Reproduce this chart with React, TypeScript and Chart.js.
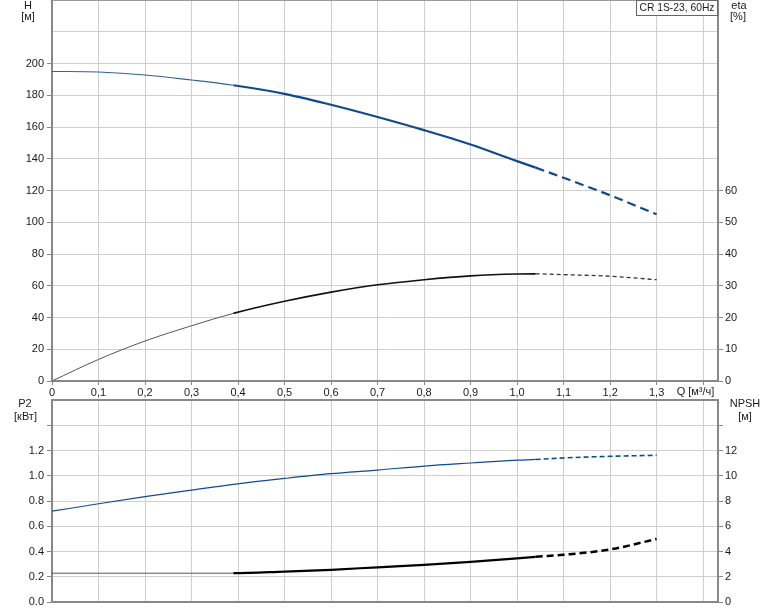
import React, { useEffect, useRef } from 'react';
import { Chart, registerables } from 'chart.js';

Chart.register(...registerables);

// ---- data ----
const qFlow = [0, 0.1, 0.2, 0.3, 0.39, 0.5, 0.6, 0.7, 0.8, 0.9, 1.0, 1.04, 1.1, 1.2, 1.3];
const headH = [195, 194.6, 192.8, 189.6, 186.3, 180.9, 174.0, 166.3, 158.0, 149.0, 138.5, 134.4, 128.0, 117.0, 105.0];
const effEta = [0, 6.8, 12.6, 17.4, 21.3, 25.1, 28.0, 30.3, 31.9, 33.1, 33.7, 33.75, 33.5, 33.0, 31.9];
const powerP2 = [0.719, 0.778, 0.834, 0.886, 0.932, 0.979, 1.017, 1.045, 1.077, 1.101, 1.123, 1.129, 1.141, 1.154, 1.162];
const npshR = [2.28, 2.28, 2.28, 2.28, 2.28, 2.41, 2.55, 2.75, 2.94, 3.18, 3.45, 3.58, 3.74, 4.16, 4.99];

const thickStartQ = 0.39;
const dashStartQ = 1.04;

const qTicks = [0, 0.1, 0.2, 0.3, 0.4, 0.5, 0.6, 0.7, 0.8, 0.9, 1.0, 1.1, 1.2, 1.3, 1.4];
const qTickLabels = ['0', '0,1', '0,2', '0,3', '0,4', '0,5', '0,6', '0,7', '0,8', '0,9', '1,0', '1,1', '1,2', '1,3', ''];
const qMax = 1.432;

const hTicks = [0, 20, 40, 60, 80, 100, 120, 140, 160, 180, 200, 220, 240];
const hTickLabels = ['0', '20', '40', '60', '80', '100', '120', '140', '160', '180', '200', '', ''];
const etaTicks = [0, 10, 20, 30, 40, 50, 60, 70, 80, 90, 100, 110, 120];
const etaTickLabels = ['0', '10', '20', '30', '40', '50', '60', '', '', '', '', '', ''];

const p2Ticks = [0, 0.2, 0.4, 0.6, 0.8, 1.0, 1.2, 1.4, 1.6];
const p2TickLabels = ['0.0', '0.2', '0.4', '0.6', '0.8', '1.0', '1.2', '', ''];
const npshTicks = [0, 2, 4, 6, 8, 10, 12, 14, 16];
const npshTickLabels = ['0', '2', '4', '6', '8', '10', '12', '', ''];

const titleText = 'CR 1S-23, 60Hz';

// ---- styles ----
const FONT = '"Liberation Sans", Arial, sans-serif';
const TXT = '#1a1a1a';
const GRID = '#cfcfcf';
const AXIS = '#888888';
const BLUE = '#0f4b8c';

const W = 774;
const TOP_H = 398;
const BOT_H = 213;

function pts(ys: number[]) {
  return qFlow.map((q, i) => ({ x: q, y: ys[i] }));
}

function labelFrom(ticks: number[], labels: string[]) {
  return (v: any) => {
    const i = ticks.findIndex((t) => Math.abs(t - Number(v)) < 1e-6);
    return i >= 0 ? labels[i] : '';
  };
}

function setTicks(ticks: number[]) {
  return (scale: any) => {
    scale.ticks = ticks.map((v) => ({ value: v }));
  };
}

function fitW(w: number) {
  return (s: any) => {
    s.width = w;
    s.paddingTop = 0;
    s.paddingBottom = 0;
  };
}

function fitH(h: number) {
  return (s: any) => {
    s.height = h;
    s.paddingLeft = 0;
    s.paddingRight = 0;
  };
}

function segStyle(thin: number, thick: number, dashW: number, dash: number[]) {
  return {
    borderWidth: (ctx: any) => {
      const x = ctx.p0.parsed.x;
      if (x < thickStartQ - 1e-6) return thin;
      if (x >= dashStartQ - 1e-6) return dashW;
      return thick;
    },
    borderDash: (ctx: any) => (ctx.p0.parsed.x >= dashStartQ - 1e-6 ? dash : []),
  };
}

function drawText(ctx: CanvasRenderingContext2D, s: string, x: number, y: number, align: CanvasTextAlign = 'center', maxW?: number) {
  ctx.textAlign = align;
  ctx.textBaseline = 'middle';
  if (maxW) ctx.fillText(s, x, y, maxW);
  else ctx.fillText(s, x, y);
}

export default function App() {
  const topRef = useRef<HTMLCanvasElement>(null);
  const botRef = useRef<HTMLCanvasElement>(null);

  useEffect(() => {
    const tickFont = { family: FONT, size: 11 };

    const topLabels = {
      id: 'topLabels',
      afterDraw(chart: any) {
        const ctx = chart.ctx as CanvasRenderingContext2D;
        ctx.save();
        ctx.font = `11px ${FONT}`;
        ctx.fillStyle = TXT;
        drawText(ctx, 'H', 28, 6);
        drawText(ctx, '[м]', 28, 17);
        drawText(ctx, 'eta', 739, 6);
        drawText(ctx, '[%]', 738, 17);
        drawText(ctx, 'Q [м³/ч]', 695.5, 391.5);
        // title box
        ctx.fillStyle = '#ffffff';
        ctx.fillRect(636, 0, 82, 16);
        ctx.strokeStyle = '#666666';
        ctx.lineWidth = 1;
        ctx.strokeRect(636.5, 0.5, 81, 15);
        ctx.fillStyle = TXT;
        drawText(ctx, titleText, 639.5, 8, 'left', 75);
        ctx.restore();
      },
    };

    const botLabels = {
      id: 'botLabels',
      afterDraw(chart: any) {
        const ctx = chart.ctx as CanvasRenderingContext2D;
        ctx.save();
        ctx.font = `11px ${FONT}`;
        ctx.fillStyle = TXT;
        const off = TOP_H;
        drawText(ctx, 'P2', 25, 404 - off);
        drawText(ctx, '[кВт]', 25.5, 417 - off);
        drawText(ctx, 'NPSH', 745, 404 - off);
        drawText(ctx, '[м]', 745, 417 - off);
        ctx.restore();
      },
    };

    const top = new Chart(topRef.current!, {
      type: 'line',
      data: {
        datasets: [
          {
            data: pts(effEta),
            yAxisID: 'yEta',
            borderColor: '#111111',
            pointRadius: 0,
            cubicInterpolationMode: 'monotone',
            segment: {
              ...segStyle(1, 1.6, 1.3, [4, 3]),
              borderColor: (ctx: any) => (ctx.p0.parsed.x < thickStartQ - 1e-6 ? '#555555' : ctx.p0.parsed.x >= dashStartQ - 1e-6 ? '#333333' : '#111111'),
            },
          } as any,
          {
            data: pts(headH),
            yAxisID: 'yH',
            borderColor: BLUE,
            pointRadius: 0,
            cubicInterpolationMode: 'monotone',
            segment: {
              ...segStyle(1.1, 2.2, 2.2, [9, 5]),
              borderColor: (ctx: any) => (ctx.p0.parsed.x < thickStartQ - 1e-6 ? '#33619a' : BLUE),
            },
          } as any,
        ],
      },
      options: {
        animation: false,
        responsive: false,
        maintainAspectRatio: false,
        layout: { padding: 0 },
        plugins: { legend: { display: false }, tooltip: { enabled: false } },
        scales: {
          x: {
            type: 'linear',
            min: 0,
            max: qMax,
            afterBuildTicks: setTicks(qTicks),
            afterFit: fitH(TOP_H - 381),
            ticks: {
              autoSkip: false,
              maxRotation: 0,
              padding: 1,
              font: tickFont,
              color: TXT,
              callback: labelFrom(qTicks, qTickLabels),
            },
            grid: { color: GRID, lineWidth: 1, tickLength: 4, tickColor: AXIS },
            border: { color: AXIS, width: 2 },
          },
          yH: {
            type: 'linear',
            position: 'left',
            min: 0,
            max: 240,
            afterBuildTicks: setTicks(hTicks),
            afterFit: fitW(52),
            ticks: {
              padding: 3,
              font: tickFont,
              color: TXT,
              callback: labelFrom(hTicks, hTickLabels),
            },
            grid: {
              color: (c: any) => (c.tick && c.tick.value >= 240 ? '#9a9a9a' : GRID),
              lineWidth: (c: any) => (c.tick && c.tick.value >= 240 ? 2 : 1),
              tickLength: 5,
              tickColor: (c: any) => (c.tick && c.tick.value > 200 ? 'rgba(0,0,0,0)' : AXIS),
            },
            border: { color: AXIS, width: 2 },
          },
          yEta: {
            type: 'linear',
            position: 'right',
            min: 0,
            max: 120,
            afterBuildTicks: setTicks(etaTicks),
            afterFit: fitW(W - 718),
            ticks: {
              padding: 2,
              font: tickFont,
              color: TXT,
              callback: labelFrom(etaTicks, etaTickLabels),
            },
            grid: {
              drawOnChartArea: false,
              tickLength: 5,
              tickColor: (c: any) => (c.tick && c.tick.value > 60 ? 'rgba(0,0,0,0)' : AXIS),
            },
            border: { color: AXIS, width: 2 },
          },
        },
      } as any,
      plugins: [topLabels],
    });

    const bot = new Chart(botRef.current!, {
      type: 'line',
      data: {
        datasets: [
          {
            data: pts(powerP2),
            yAxisID: 'yP2',
            borderColor: BLUE,
            pointRadius: 0,
            cubicInterpolationMode: 'monotone',
            segment: {
              borderWidth: (ctx: any) => (ctx.p0.parsed.x >= dashStartQ - 1e-6 ? 1.6 : 1.2),
              borderDash: (ctx: any) => (ctx.p0.parsed.x >= dashStartQ - 1e-6 ? [5, 3] : []),
            },
          } as any,
          {
            data: pts(npshR),
            yAxisID: 'yNPSH',
            borderColor: '#000000',
            pointRadius: 0,
            cubicInterpolationMode: 'monotone',
            segment: {
              ...segStyle(1, 2.2, 2.5, [7, 4]),
              borderColor: (ctx: any) => (ctx.p0.parsed.x < thickStartQ - 1e-6 ? '#555555' : '#000000'),
            },
          } as any,
        ],
      },
      options: {
        animation: false,
        responsive: false,
        maintainAspectRatio: false,
        layout: { padding: { top: 2, left: 0, right: 0, bottom: 0 } },
        plugins: { legend: { display: false }, tooltip: { enabled: false } },
        scales: {
          x: {
            type: 'linear',
            min: 0,
            max: qMax,
            afterBuildTicks: setTicks(qTicks),
            afterFit: fitH(BOT_H - (602 - TOP_H)),
            ticks: { display: false },
            grid: { color: GRID, lineWidth: 1, drawTicks: false },
            border: { color: AXIS, width: 2 },
          },
          yP2: {
            type: 'linear',
            position: 'left',
            min: 0,
            max: 1.6,
            afterBuildTicks: setTicks(p2Ticks),
            afterFit: fitW(52),
            ticks: {
              padding: 3,
              font: tickFont,
              color: TXT,
              callback: labelFrom(p2Ticks, p2TickLabels),
            },
            grid: {
              color: (c: any) => (c.tick && c.tick.value >= 1.6 - 1e-6 ? AXIS : GRID),
              lineWidth: (c: any) => (c.tick && c.tick.value >= 1.6 - 1e-6 ? 2 : 1),
              tickLength: 5,
              tickColor: (c: any) => (c.tick && c.tick.value >= 1.6 - 1e-6 ? 'rgba(0,0,0,0)' : AXIS),
            },
            border: { color: AXIS, width: 2 },
          },
          yNPSH: {
            type: 'linear',
            position: 'right',
            min: 0,
            max: 16,
            afterBuildTicks: setTicks(npshTicks),
            afterFit: fitW(W - 718),
            ticks: {
              padding: 2,
              font: tickFont,
              color: TXT,
              callback: labelFrom(npshTicks, npshTickLabels),
            },
            grid: {
              drawOnChartArea: false,
              tickLength: 5,
              tickColor: (c: any) => (c.tick && c.tick.value >= 16 - 1e-6 ? 'rgba(0,0,0,0)' : AXIS),
            },
            border: { color: AXIS, width: 2 },
          },
        },
      } as any,
      plugins: [botLabels],
    });

    return () => {
      top.destroy();
      bot.destroy();
    };
  }, []);

  return (
    <div style={{ position: 'absolute', left: 0, top: 0, width: W, height: 611, background: '#ffffff' }}>
      <canvas
        ref={topRef}
        width={W}
        height={TOP_H}
        style={{ position: 'absolute', left: 0, top: 0, width: W, height: TOP_H }}
      />
      <canvas
        ref={botRef}
        width={W}
        height={BOT_H}
        style={{ position: 'absolute', left: 0, top: TOP_H, width: W, height: BOT_H }}
      />
    </div>
  );
}
